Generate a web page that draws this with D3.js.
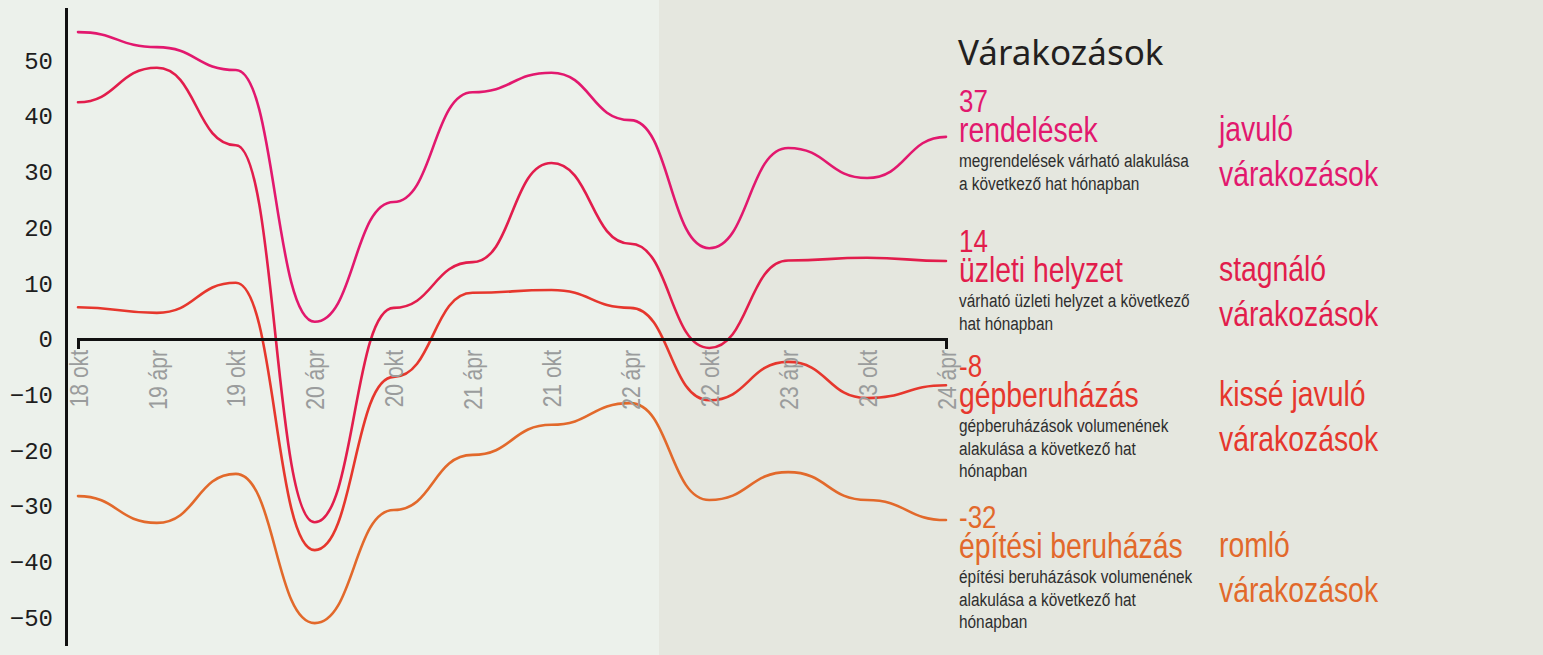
<!DOCTYPE html>
<html>
<head>
<meta charset="utf-8">
<script src="https://cdn.jsdelivr.net/npm/d3@7"></script>
<style>
  html, body { margin: 0; padding: 0; background: #e5e7df; }
  svg { display: block; }
</style>
</head>
<body>
<svg id="chart" width="1543" height="655"></svg>
<script>
// ---- data ----
const periods = ["18 okt","19 ápr","19 okt","20 ápr","20 okt","21 ápr","21 okt","22 ápr","22 okt","23 ápr","23 okt","24 ápr"];
const rendelesek = [55.1, 52.4, 48.3, 3.1, 24.6, 44.3, 47.8, 39.3, 16.3, 34.3, 28.9, 36.3];
const uzletiHelyzet = [42.5, 48.7, 34.8, -32.9, 5.6, 13.8, 31.6, 17.1, -1.6, 14.1, 14.6, 14.0];
const gepberuhazas = [5.7, 4.7, 10.1, -37.9, -6.8, 8.3, 8.8, 5.6, -11.0, -4.1, -10.6, -8.3];
const epitesiBeruhazas = [-28.2, -33.0, -24.2, -51.0, -30.7, -20.8, -15.4, -11.5, -28.9, -23.9, -28.9, -32.5];
const yTicks = [-50, -40, -30, -20, -10, 0, 10, 20, 30, 40, 50];

const seriesNames = ["rendelések", "üzleti helyzet", "gépberuházás", "építési beruházás"];
const seriesLatest = ["37", "14", "-8", "-32"];
const seriesDesc = [
  ["megrendelések várható alakulása", "a következő hat hónapban"],
  ["várható üzleti helyzet a következő", "hat hónapban"],
  ["gépberuházások volumenének", "alakulása a következő hat", "hónapban"],
  ["építési beruházások volumenének", "alakulása a következő hat", "hónapban"]
];
const seriesVerdict = [
  ["javuló", "várakozások"],
  ["stagnáló", "várakozások"],
  ["kissé javuló", "várakozások"],
  ["romló", "várakozások"]
];
const seriesColors = ["#e2186e", "#e21d4c", "#e6372d", "#e2692b"];
const panelTitle = "Várakozások";

const series = [rendelesek, uzletiHelyzet, gepberuhazas, epitesiBeruhazas];

// ---- layout ----
const svg = d3.select("#chart");
const W = 1543, H = 655;
const SX = 0.81; // horizontal condensing factor
const narrowFont = "'Liberation Sans', Arial, sans-serif";

svg.append("rect").attr("x", 0).attr("y", 0).attr("width", W).attr("height", H).attr("fill", "#e5e7df");
svg.append("rect").attr("x", 0).attr("y", 0).attr("width", 659).attr("height", H).attr("fill", "#ecf1eb");

const x = d3.scalePoint().domain(periods).range([78, 946]);
const y = d3.scaleLinear().domain([-55, 59.5]).range([645.4, 7.6]);

// y axis
const yAxis = svg.append("g")
  .attr("transform", "translate(66,0)")
  .call(d3.axisLeft(y).tickValues(yTicks).tickSize(0).tickSizeOuter(0).tickPadding(13).tickFormat(d3.format("d")));
yAxis.select(".domain").attr("stroke", "#111").attr("stroke-width", 3);
yAxis.selectAll("text")
  .attr("font-family", "'Liberation Mono', 'DejaVu Sans Mono', monospace")
  .attr("font-size", 24)
  .attr("fill", "#1e1e1e");

// lines
const line = d3.line()
  .x((d, i) => x(periods[i]))
  .y(d => y(d))
  .curve(d3.curveBumpX);

series.forEach((s, i) => {
  svg.append("path")
    .datum(s)
    .attr("d", line)
    .attr("fill", "none")
    .attr("stroke", seriesColors[i])
    .attr("stroke-width", 2.6)
    .attr("stroke-linecap", "round");
});

// x axis
const xAxis = svg.append("g")
  .attr("transform", `translate(0,${y(0)})`)
  .call(d3.axisBottom(x).tickSizeInner(0).tickSizeOuter(10).tickPadding(0));
xAxis.select(".domain").attr("stroke", "#111").attr("stroke-width", 3).attr("fill", "none");
xAxis.selectAll(".tick line").remove();
xAxis.selectAll("text")
  .attr("transform", `rotate(-90) scale(${SX},1)`)
  .attr("x", -11 / SX)
  .attr("y", 0)
  .attr("dy", "0.35em")
  .attr("text-anchor", "end")
  .attr("font-family", narrowFont)
  .attr("font-size", 26)
  .attr("fill", "#9a9c9c");

// right panel
svg.append("text")
  .attr("x", 958)
  .attr("y", 65)
  .attr("font-family", "'Noto Sans', sans-serif")
  .attr("font-size", 35)
  .attr("fill", "#231f20")
  .text(panelTitle);

function narrowText(parent, tx, ty, size, fill, txt) {
  parent.append("text")
    .attr("transform", `translate(${tx},${ty}) scale(${SX},1)`)
    .attr("font-family", narrowFont)
    .attr("font-size", size)
    .attr("fill", fill)
    .text(txt);
}

const groupBase = [112, 252, 377, 528];

seriesNames.forEach((name, i) => {
  const b = groupBase[i];
  const g = svg.append("g");
  narrowText(g, 959, b, 32, seriesColors[i], seriesLatest[i]);
  narrowText(g, 959, b + 30, 35, seriesColors[i], name);
  seriesDesc[i].forEach((ln, j) => {
    narrowText(g, 959, b + 55 + j * 22.5, 19, "#2e2e2e", ln);
  });
  seriesVerdict[i].forEach((ln, j) => {
    narrowText(g, 1219, b + 29 + j * 45, 35, seriesColors[i], ln);
  });
});
</script>
</body>
</html>
